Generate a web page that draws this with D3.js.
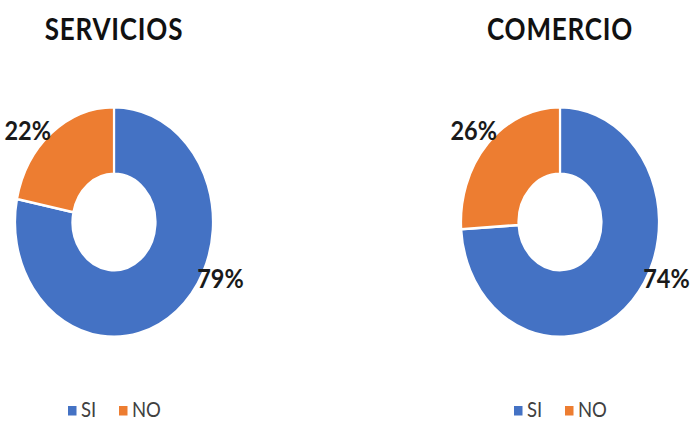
<!DOCTYPE html>
<html>
<head>
<meta charset="utf-8">
<script src="https://cdn.jsdelivr.net/npm/d3@7"></script>
<style>
  html, body { margin: 0; padding: 0; background: #fff; }
  svg { display: block; }
</style>
</head>
<body>
<svg id="chart" width="694" height="423"></svg>
<script>
// ---- data ----
const categories = ["SI", "NO"];
const chartTitles = ["SERVICIOS", "COMERCIO"];
const serviciosValues = [79, 22];
const comercioValues = [74, 26];
const colors = ["#4472C4", "#ED7D31"];

// ---- layout ----
const W = 694, H = 423;
const sy = 1.16;                 // vertical stretch of the original picture
const centersX = [114, 560];
const centerY = 222;
const outerR = 99, innerR = 41.5;
const labelAngleDeg = [114.5, -47.5];
const labelR = 117;

const svg = d3.select("#chart");
const pie = d3.pie().sort(null).value(d => d);
const arc = d3.arc().innerRadius(innerR).outerRadius(outerR);
const color = d3.scaleOrdinal().domain(categories).range(colors);

const datasets = [serviciosValues, comercioValues];

datasets.forEach((vals, ci) => {
  const cx = centersX[ci];

  // title
  svg.append("g")
    .attr("transform", `translate(${cx},40) scale(1,${sy})`)
    .append("text")
    .attr("text-anchor", "middle")
    .attr("font-family", "Lato, 'Open Sans', sans-serif")
    .attr("font-weight", "bold")
    .attr("font-size", 26)
    .attr("letter-spacing", 0.8)
    .attr("fill", "#111")
    .text(chartTitles[ci]);

  // donut
  const g = svg.append("g")
    .attr("transform", `translate(${cx},${centerY}) scale(1,${sy})`);
  const arcs = pie(vals);
  g.selectAll("path")
    .data(arcs)
    .join("path")
    .attr("d", arc)
    .attr("fill", (d, i) => color(categories[i]))
    .attr("stroke", "#fff")
    .attr("stroke-width", 2.2);

  // labels
  arcs.forEach((d, i) => {
    const a = labelAngleDeg[i] * Math.PI / 180;
    const x = cx + labelR * Math.sin(a);
    const y = centerY - labelR * Math.cos(a) * sy;
    svg.append("g")
      .attr("transform", `translate(${x},${y}) scale(1,${sy})`)
      .append("text")
      .attr("text-anchor", "middle")
      .attr("dy", "0.36em")
      .attr("font-family", "Lato, 'Open Sans', sans-serif")
      .attr("font-weight", "bold")
      .attr("font-size", 23.5)
      .attr("fill", "#1a1a1a")
      .text(d.data + "%");
  });

  // legend
  const legendX = cx - 46;
  const lg = svg.append("g").attr("transform", `translate(${legendX},0)`);
  const itemX = [0, 51];
  categories.forEach((c, i) => {
    lg.append("rect")
      .attr("x", itemX[i])
      .attr("y", 406)
      .attr("width", 8.5)
      .attr("height", 9.5)
      .attr("fill", color(c));
    lg.append("g")
      .attr("transform", `translate(${itemX[i] + 13},417) scale(1,${sy})`)
      .append("text")
      .attr("font-family", "Lato, 'Open Sans', sans-serif")
      .attr("font-size", 18.5)
      .attr("fill", "#404040")
      .text(c);
  });
});
</script>
</body>
</html>
